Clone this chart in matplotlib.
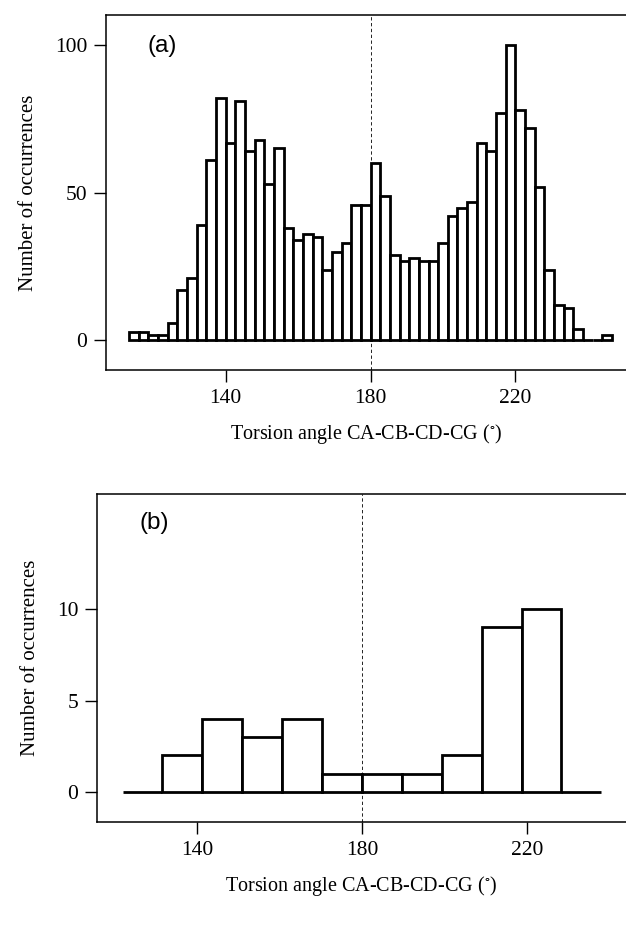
import numpy as np
import matplotlib
matplotlib.use("Agg")
import matplotlib.pyplot as plt

# panel (a): 50 bins
counts_a = [3, 3, 2, 2, 6, 17, 21, 39, 61, 82,
            67, 81, 64, 68, 53, 65, 38, 34, 36, 35,
            24, 30, 33, 46, 46, 60, 49, 29, 27, 28,
            27, 27, 33, 42, 45, 47, 67, 64, 77, 100,
            78, 72, 52, 24, 12, 11, 4, 0, 0, 2]
width_a = 8 / 3
start_a = 180 - 25 * width_a

# panel (b): 12 bins (outer two empty)
counts_b = [0, 2, 4, 3, 4, 1, 1, 1, 2, 9, 10, 0]
width_b = 9.67
start_b = 180 - 6 * width_b

xticks = [140, 180, 220]
yticks_a = [0, 50, 100]
yticks_b = [0, 5, 10]
xlabel = "Torsion angle CA-CB-CD-CG ($^{\\circ}$)"
ylabel = "Number of occurrences"

serif = "Liberation Serif"
plt.rcParams["font.family"] = serif
plt.rcParams["mathtext.fontset"] = "stix"

fig = plt.figure(figsize=(6.26, 9.26), dpi=100)
W, H = 626, 926


def add_axes(left, top, right, bottom):
    return fig.add_axes([left / W, 1 - bottom / H, (right - left) / W, (bottom - top) / H])


def style(ax, yticks, tag):
    for s in ["top", "left", "bottom"]:
        ax.spines[s].set_linewidth(1.1)
    ax.spines["right"].set_visible(False)
    ax.set_xticks(xticks)
    ax.set_yticks(yticks)
    ax.tick_params(direction="out", length=8.5, width=1.0, labelsize=15.5, pad=5)
    ax.set_xlabel(xlabel, fontsize=14.5, labelpad=10)
    ax.set_ylabel(ylabel, fontsize=15, labelpad=12)
    ax.axvline(180, color="black", lw=0.6, ls=(0, (4, 3)), zorder=0)
    ax.text(0.08, 0.945, tag, transform=ax.transAxes, fontsize=17.5,
            family="Liberation Sans", va="top", ha="left")


# (a)
ax1 = add_axes(106, 15, 626, 370)
edges_a = start_a + width_a * np.arange(len(counts_a))
ax1.bar(edges_a, counts_a, width=width_a, align="edge", facecolor="white",
        edgecolor="black", linewidth=2.0, zorder=2)
ax1.set_xlim(107.0, 250.5)
ax1.set_ylim(-10, 110.2)
style(ax1, yticks_a, "(a)")

# (b)
ax2 = add_axes(97, 494, 626, 822)
edges_b = start_b + width_b * np.arange(len(counts_b))
ax2.bar(edges_b, counts_b, width=width_b, align="edge", facecolor="white",
        edgecolor="black", linewidth=2.0, zorder=2)
ax2.set_xlim(115.8, 244.0)
ax2.set_ylim(-1.64, 16.3)
style(ax2, yticks_b, "(b)")

fig.savefig("out.png", dpi=100)
